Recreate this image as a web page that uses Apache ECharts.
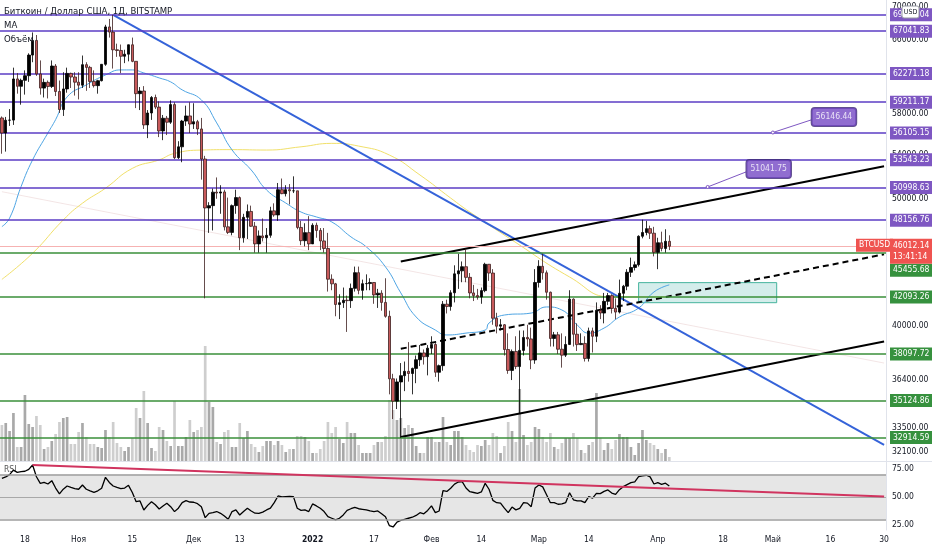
<!DOCTYPE html>
<html lang="ru">
<head>
<meta charset="UTF-8" />
<title>BTCUSD 1Д - BITSTAMP</title>
<script src="https://cdn.jsdelivr.net/npm/echarts@6.0.0/dist/echarts.min.js"></script>
<style>
  html, body { margin: 0; padding: 0; background: #ffffff; }
  #chart { width: 932px; height: 550px; }
</style>
</head>
<body>
<div id="chart"></div>
<script>
const FONT = '"Liberation Sans Narrow", "DejaVu Sans Condensed", Roboto, sans-serif';
const INK = '#131722';

// daily candles from 2021-10-12 to 2022-04-04: [open, high, low, close]
const candles = [
  [57600, 57750, 54100, 56100], [56100, 57700, 54300, 57370], [57370, 58500, 56800, 57380], [57380, 62900, 56900, 61670],
  [61670, 62300, 60100, 60880], [60880, 61700, 58950, 61520], [61520, 62600, 60000, 62020], [62020, 64500, 61350, 64300],
  [64300, 66900, 63500, 65970], [65970, 66600, 62000, 62210], [62210, 63700, 60000, 60690], [60690, 61700, 59700, 61300],
  [61300, 61500, 59600, 60860], [60860, 63700, 60700, 63080], [63080, 63300, 59850, 60330], [60330, 61500, 58100, 58450],
  [58450, 62400, 57800, 60600], [60600, 62900, 60200, 62270], [62270, 62350, 60700, 61880], [61880, 62400, 59900, 61320],
  [61320, 62400, 59500, 61000], [61000, 64250, 60700, 63230], [63230, 63500, 60400, 62930], [62930, 63100, 60700, 61400],
  [61400, 62600, 60750, 60950], [60950, 61580, 60100, 61480], [61480, 63300, 61400, 63270], [63270, 67800, 63100, 67550],
  [67550, 68500, 66300, 66940], [66940, 69000, 62800, 64900], [64900, 65600, 64100, 64820], [64820, 65500, 62300, 64170],
  [64170, 64900, 63400, 64400], [64400, 65500, 63600, 65470], [65470, 66300, 63500, 63600], [63600, 63600, 58600, 60100],
  [60100, 60800, 58400, 60380], [60380, 60900, 56500, 56900], [56900, 58400, 55600, 58100], [58100, 59850, 57400, 59700],
  [59700, 60000, 58500, 58700], [58700, 59300, 55700, 56300], [56300, 57900, 55400, 57570], [57570, 57800, 55900, 57170],
  [57170, 59400, 57000, 58960], [58960, 59200, 53600, 53730], [53730, 55300, 53600, 54760], [54760, 57400, 53300, 57280],
  [57280, 58850, 56800, 57800], [57800, 59200, 56100, 56990], [56990, 59100, 56500, 57220], [57220, 57400, 55900, 56500],
  [56500, 57600, 51700, 53600], [53600, 53900, 42000, 49200], [49200, 49700, 47100, 49400], [49400, 50900, 47300, 50580],
  [50580, 51900, 50000, 50500], [50500, 51200, 48700, 50600], [50600, 50800, 47300, 47600], [47600, 50100, 47000, 47140],
  [47140, 49500, 46900, 49400], [49400, 50800, 48700, 50100], [50100, 50200, 45700, 46700], [46700, 48700, 46300, 48400],
  [48400, 49500, 46600, 48900], [48900, 49400, 47600, 47650], [47650, 48000, 45500, 46200], [46200, 47300, 45500, 46850],
  [46850, 48300, 46400, 46700], [46700, 47500, 45500, 46900], [46900, 49300, 46700, 48950], [48950, 49600, 48450, 48600],
  [48600, 51400, 48100, 50800], [50800, 51800, 50400, 50450], [50450, 51200, 50200, 50800], [50800, 51300, 49500, 50700],
  [50700, 52000, 50500, 50700], [50700, 50700, 47400, 47550], [47550, 48100, 46100, 46460], [46460, 47900, 46000, 47120],
  [47120, 48500, 45700, 46200], [46200, 47900, 46200, 47730], [47730, 47950, 46700, 47300], [47300, 47500, 45700, 46440],
  [46440, 47500, 45500, 45830], [45830, 47100, 42500, 43430], [43430, 43800, 42600, 43080], [43080, 43150, 40700, 41550],
  [41550, 42300, 40500, 41680], [41680, 42800, 41300, 41860], [41860, 42200, 39600, 41830], [41830, 43100, 41300, 42740],
  [42740, 44400, 42500, 43930], [43930, 44400, 42300, 42590], [42590, 43400, 41900, 43090], [43090, 43800, 42600, 43100],
  [43100, 43500, 42600, 43180], [43180, 43200, 41600, 42250], [42250, 42700, 41300, 42380], [42380, 42600, 41100, 41700],
  [41700, 43500, 40600, 40700], [40700, 41100, 35500, 36480], [36480, 36800, 34000, 35080], [35080, 36500, 34600, 36280],
  [36280, 37500, 32900, 36680], [36680, 37600, 35700, 36960], [36960, 38900, 36300, 36820], [36820, 37200, 35500, 37150],
  [37150, 38000, 36200, 37720], [37720, 38700, 37300, 38170], [38170, 38400, 37400, 37920], [37920, 38700, 36700, 38490],
  [38490, 39300, 38100, 38740], [38740, 38850, 36600, 36900], [36900, 37400, 36300, 37330], [37330, 41800, 37000, 41570],
  [41570, 41900, 40900, 41400], [41400, 42600, 41100, 42410], [42410, 44500, 41700, 43840], [43840, 45400, 42700, 44070],
  [44070, 44800, 43200, 44390], [44390, 45800, 43200, 43570], [43570, 43900, 42000, 42400], [42400, 43000, 41800, 42200],
  [42200, 42700, 41900, 42100], [42100, 42800, 41600, 42570], [42570, 44700, 42450, 44580], [44580, 44600, 43300, 43900],
  [43900, 44200, 40100, 40560], [40560, 40950, 39500, 40000], [40000, 40500, 39700, 40100], [40100, 40150, 38000, 38400],
  [38400, 39500, 36800, 37020], [37020, 38400, 36400, 38270], [38270, 39300, 37100, 37270], [37270, 39700, 34300, 38340],
  [38340, 39700, 38000, 39220], [39220, 40100, 38600, 39120], [39120, 39900, 37100, 37700], [37700, 44200, 37450, 43180],
  [43180, 44900, 42800, 44420], [44420, 45400, 43400, 43920], [43920, 44100, 41900, 42450], [42450, 42500, 38600, 39150],
  [39150, 39600, 38600, 39400], [39400, 39600, 38100, 38420], [38420, 39500, 37200, 38020], [38020, 39300, 37900, 38740],
  [38740, 42600, 38700, 41940], [41940, 42000, 38600, 39440], [39440, 40200, 38300, 38730], [38730, 39500, 38700, 38810],
  [38810, 39300, 37600, 37800], [37800, 39900, 37600, 39670], [39670, 39900, 38200, 39300], [39300, 41700, 38900, 41130],
  [41130, 41500, 40500, 40930], [40930, 42400, 40200, 41780], [41780, 42400, 41500, 42200], [42200, 42300, 40900, 41270],
  [41270, 42000, 40500, 41000], [41000, 43400, 40900, 42370], [42370, 43000, 41800, 42900], [42900, 44200, 42600, 43960],
  [43960, 45100, 43600, 44330], [44330, 44800, 44100, 44540], [44540, 46900, 44400, 46820], [46820, 48200, 46650, 47130],
  [47130, 48100, 46900, 47450], [47450, 47700, 46600, 47070], [47070, 47600, 45200, 45520], [45520, 46700, 44200, 46290],
  [46290, 47200, 45600, 45830], [45830, 47400, 45500, 46410], [46410, 46900, 45700, 46012.14]
];

// daily volume, BTC
const volumes = [
  3600, 3800, 3000, 4800, 1400, 1400, 6600, 3700, 3400, 4500, 3600, 1200, 1400, 2000, 2700, 3900,
  4300, 4400, 1700, 1700, 2900, 3800, 2400, 1700, 1700, 1400, 1300, 3100, 2400, 3900, 1800, 1400,
  1000, 1400, 2300, 5300, 4300, 7000, 3800, 1300, 1000, 3400, 3100, 2000, 1500, 6000, 1500, 1500,
  2400, 4100, 2900, 3100, 3400, 11500, 5900, 5400, 1900, 1700, 2900, 3100, 1400, 1400, 3800, 2300,
  3000, 1700, 1400, 900, 1500, 2000, 2000, 1600, 2000, 1600, 900, 1200, 1200, 2500, 2500, 2400,
  2000, 800, 800, 1200, 2000, 3900, 2800, 3400, 2200, 1800, 3900, 2800, 2800, 1600, 800, 800,
  800, 1600, 1900, 1900, 2500, 6100, 5100, 4100, 4300, 3300, 3600, 3300, 1500, 800, 800, 2400,
  2400, 1900, 1900, 4400, 1900, 1600, 3000, 3000, 2400, 1600, 1100, 900, 1600, 1500, 2100, 1600,
  2800, 2500, 800, 1500, 3900, 3000, 1900, 7200, 2600, 1600, 1900, 3400, 3200, 2400, 1900, 2800,
  1400, 1200, 1800, 2300, 2300, 2800, 2300, 1100, 800, 1600, 1900, 6800, 2300, 1100, 1800, 1200,
  2100, 2700, 2400, 2400, 1400, 600, 1800, 3100, 2100, 1800, 1600, 1200, 800, 1200, 400
];

// RSI(14), one value per candle
const rsi = [
  66.7, 68, 70, 74, 72, 72.6, 73, 74.7, 78.6, 68.1, 62.2, 63, 61.6, 64.6, 58, 52.7,
  57, 59.8, 58.5, 57.5, 56.9, 60.7, 56.9, 55.5, 54.2, 55.5, 57.8, 67.6, 63, 59.8, 58.5, 57.4,
  58, 60.4, 54, 45.8, 46.5, 38.4, 42.5, 45.8, 43, 39.3, 42, 44.4, 41.3, 36.9, 40, 45,
  46.7, 45.5, 45.3, 44, 41.3, 31.5, 35.4, 36, 37, 35.4, 33, 30.1, 37, 38.4, 33.9, 37,
  39.9, 37.5, 35.5, 35.4, 36.5, 38.4, 40, 44.9, 50.9, 50, 50.3, 50.5, 50.3, 39.9, 38, 38.4,
  37, 43.8, 42, 39.9, 37, 32.4, 31, 29.5, 31, 34, 38, 39.5, 40.8, 39.5, 39, 38.5,
  37.5, 36.9, 37.5, 35, 32.4, 24.5, 23.2, 27.5, 29, 30, 31, 31.9, 33.5, 36, 35, 38,
  42, 36, 37.5, 55.6, 55, 57.8, 61.5, 63.4, 63.7, 58, 54.7, 54, 53.3, 54.5, 62.2, 56.9,
  47, 44.9, 44.5, 40, 36, 41, 38.5, 39.9, 44.9, 44.5, 41.3, 58, 60.7, 59, 52, 44.9,
  45, 43.5, 43.8, 45, 53.8, 47.5, 46.5, 46.5, 44.9, 50.3, 49, 53.3, 53, 55, 56.3, 53.5,
  52.4, 56.5, 59.2, 61, 62.8, 63.5, 68.1, 68.8, 69.4, 68, 61.6, 62.8, 61.3, 62.3, 59.8
];

// moving averages
const maFast = [
  ['2021-10-12', 47620], ['2021-10-14', 48330], ['2021-10-17', 51080], ['2021-10-20', 53520], ['2021-10-24', 56110],
  ['2021-10-26', 57430], ['2021-10-29', 59760], ['2021-11-03', 61030], ['2021-11-08', 62100], ['2021-11-12', 62650],
  ['2021-11-15', 62650], ['2021-11-18', 62320], ['2021-11-22', 61780], ['2021-11-25', 61350], ['2021-11-28', 60500],
  ['2021-12-03', 59450], ['2021-12-07', 57100], ['2021-12-11', 54460], ['2021-12-16', 52580], ['2021-12-20', 50770],
  ['2021-12-25', 49630], ['2021-12-29', 48850], ['2022-01-02', 48430], ['2022-01-06', 48010], ['2022-01-11', 46770],
  ['2022-01-15', 45960], ['2022-01-20', 44380], ['2022-01-24', 42400], ['2022-01-28', 40650], ['2022-02-02', 39730],
  ['2022-02-05', 39390], ['2022-02-10', 39520], ['2022-02-15', 39730], ['2022-02-16', 40220], ['2022-02-20', 40790],
  ['2022-02-27', 40930], ['2022-03-03', 41370], ['2022-03-07', 41150], ['2022-03-11', 40080], ['2022-03-14', 39520],
  ['2022-03-18', 39870], ['2022-03-22', 40650], ['2022-03-27', 41290], ['2022-03-31', 42470], ['2022-04-04', 43000]
];
const maSlow = [
  ['2021-10-12', 43420], ['2021-10-20', 45450], ['2021-10-28', 48180], ['2021-11-02', 49610], ['2021-11-08', 50930],
  ['2021-11-15', 52730], ['2021-11-22', 53520], ['2021-11-26', 54130], ['2021-12-03', 54450], ['2021-12-11', 54490],
  ['2021-12-20', 54450], ['2021-12-29', 54760], ['2022-01-06', 55090], ['2022-01-13', 54830], ['2022-01-21', 53980],
  ['2022-01-29', 52120], ['2022-02-06', 50060], ['2022-02-11', 48850], ['2022-02-22', 46510], ['2022-03-09', 43600],
  ['2022-03-20', 42100], ['2022-04-04', 42100]
];

// horizontal levels
const purpleLevels = [69000.04, 67041.83, 62271.18, 59211.17, 56105.15, 53543.23, 50998.63, 48156.76];
const greenLevels = [45455.68, 42093.26, 38097.72, 35124.86, 32914.59];
const lastPrice = 46012.14;
const priceTicks = [70000, 66000, 58000, 54000, 50000, 40000, 36400, 33500, 32100];
const rsiTicks = [75, 50, 25];

// drawn lines [date, value]
const blueTrend = [['2021-11-10', 69000], ['2022-05-30', 32500]];
const channelTop = [['2022-01-24', 44790], ['2022-05-30', 52920]];
const channelMid = [['2022-01-24', 38450], ['2022-05-30', 45360]];
const channelLow = [['2022-01-24', 32940], ['2022-05-30', 38940]];
const faintTrend = [['2021-10-12', 50620], ['2022-05-30', 37500]];
const rsiTrend = [['2021-10-20', 78.6], ['2022-05-30', 50.5]];
const zone = [['2022-03-27', 43170], ['2022-05-02', 41680]];
const callouts = [
  { text: '56146.44', at: ['2022-05-01', 56146.44], box: ['2022-05-11', 57400] },
  { text: '51041.75', at: ['2022-04-14', 51041.75], box: ['2022-04-24', 52400] }
];

const xTicks = {
  '2021-10-18': '18', '2021-11-01': 'Ноя', '2021-11-15': '15', '2021-12-01': 'Дек', '2021-12-13': '13',
  '2022-01-01': '2022', '2022-01-17': '17', '2022-02-01': 'Фев', '2022-02-14': '14', '2022-03-01': 'Мар',
  '2022-03-14': '14', '2022-04-01': 'Апр', '2022-04-18': '18', '2022-05-01': 'Май', '2022-05-16': '16',
  '2022-05-30': '30'
};

// one category per calendar day, 2021-10-12 .. 2022-05-30
const days = [];
for (let t = Date.UTC(2021, 9, 12); t <= Date.UTC(2022, 4, 30); t += 86400000) {
  days.push(new Date(t).toISOString().slice(0, 10));
}

const chart = echarts.init(document.getElementById('chart'), null, { renderer: 'canvas' });

const NOLINE = { color: 'rgba(0,0,0,0)', width: 0 };

const tag = (bg, extra) => Object.assign({
  position: 'end', distance: 4, color: '#ffffff', backgroundColor: bg, padding: [2, 3, 1, 3],
  fontFamily: FONT, fontSize: 8.5, lineHeight: 10, formatter: p => Number(p.value).toFixed(2)
}, extra || {});

const levelSeries = (name, values, color, bg, z, offsets) => ({
  name, type: 'line', data: [], xAxisIndex: 0, yAxisIndex: 0, z, silent: true,
  markLine: {
    symbol: 'none', silent: true, animation: false,
    lineStyle: { color, width: 1.5, type: 'solid' },
    label: tag(bg),
    data: values.map((v, k) => ({ yAxis: v, label: offsets && offsets[k] ? { offset: offsets[k] } : {} }))
  }
});

const tickSeries = (name, values, axis, digits, z) => ({
  name, type: 'line', data: [], xAxisIndex: axis, yAxisIndex: axis, z, silent: true,
  markLine: {
    symbol: 'none', silent: true, animation: false,
    lineStyle: NOLINE,
    label: { position: 'end', distance: 6, color: INK, fontFamily: FONT, fontSize: 8.5,
      formatter: p => Number(p.value).toFixed(digits) },
    data: values.map(v => ({ yAxis: v }))
  }
});

const trend = (name, data, color, width, type, z, axis) => ({
  name, type: 'line', data, xAxisIndex: axis || 0, yAxisIndex: axis || 0, z, silent: true,
  symbol: 'none', lineStyle: { color, width, type }, animation: false
});

const series = [
  tickSeries('priceTicks', priceTicks, 0, 2, 1),
  levelSeries('purple', purpleLevels, '#5b3cc4', '#7e57c2', 2),
  levelSeries('green', greenLevels, '#3a8f3a', '#36913e', 2, [[0, 17]]),
  {
    name: 'last', type: 'line', data: [], xAxisIndex: 0, yAxisIndex: 0, z: 2, silent: true,
    markLine: {
      symbol: 'none', silent: true, animation: false,
      lineStyle: { color: '#f6b2b2', width: 1, type: 'solid' },
      label: tag('#ef5350', { formatter: lastPrice.toFixed(2) + '\n13:41:14', offset: [0, 5], lineHeight: 11 }),
      data: [{ yAxis: lastPrice }]
    }
  },
  {
    name: 'ticker', type: 'line', data: [], xAxisIndex: 0, yAxisIndex: 0, z: 9, silent: true,
    markLine: {
      symbol: 'none', silent: true, animation: false,
      lineStyle: NOLINE,
      label: tag('#ef5350', { formatter: 'BTCUSD', distance: 0, offset: [-30, -1] }),
      data: [{ yAxis: lastPrice }]
    }
  },
  {
    name: 'zone', type: 'line', data: [], xAxisIndex: 0, yAxisIndex: 0, z: 2, silent: true,
    markArea: {
      silent: true, animation: false,
      itemStyle: { color: 'rgba(38,166,154,0.2)', borderColor: '#45b39d', borderWidth: 1 },
      data: [[{ coord: zone[0] }, { coord: zone[1] }]]
    }
  },
  trend('faint', faintTrend, 'rgba(215,170,170,0.3)', 1, 'solid', 2),
  {
    name: 'MA slow', type: 'line', data: maSlow, smooth: true, symbol: 'none', z: 3, silent: true,
    xAxisIndex: 0, yAxisIndex: 0, lineStyle: { color: '#f1e06a', width: 1 }, animation: false
  },
  {
    name: 'MA fast', type: 'line', data: maFast, smooth: true, symbol: 'none', z: 3, silent: true,
    xAxisIndex: 0, yAxisIndex: 0, lineStyle: { color: '#4ea5e4', width: 1 }, animation: false
  },
  trend('blueTrend', blueTrend, '#3563d9', 2, 'solid', 4),
  trend('channelTop', channelTop, '#000000', 2, 'solid', 4),
  trend('channelLow', channelLow, '#000000', 2, 'solid', 4),
  trend('channelMid', channelMid, '#000000', 2, [6, 4], 4),
  {
    name: 'BTCUSD', type: 'candlestick', xAxisIndex: 0, yAxisIndex: 0, z: 5, silent: true,
    barWidth: '78%', animation: false,
    data: candles.map(c => [c[0], c[3], c[2], c[1]]),
    itemStyle: { color: '#000000', color0: '#c85a5b', borderColor: '#000000', borderColor0: '#3d2020', borderWidth: 0.8 }
  },
  {
    name: 'Объём', type: 'bar', xAxisIndex: 1, yAxisIndex: 1, z: 1, silent: true, barWidth: '70%',
    animation: false, data: volumes,
    itemStyle: { color: p => candles[p.dataIndex][3] >= candles[p.dataIndex][0] ? 'rgba(140,140,140,0.75)' : 'rgba(185,185,185,0.7)' }
  }
];

callouts.forEach((c, k) => {
  series.push({
    name: 'pointer' + k, type: 'line', data: [c.at, c.box], xAxisIndex: 0, yAxisIndex: 0, z: 6, silent: true,
    symbol: 'circle', symbolSize: (v, p) => (p.dataIndex === 0 ? 3 : 0), showAllSymbol: true,
    itemStyle: { color: '#ffffff', borderColor: '#7e57c2', borderWidth: 1 },
    lineStyle: { color: '#7e57c2', width: 1 }, animation: false
  });
  series.push({
    name: 'note' + k, type: 'scatter', data: [c.box], xAxisIndex: 0, yAxisIndex: 0, z: 7, silent: true,
    symbolSize: 1, itemStyle: { color: 'rgba(0,0,0,0)' }, animation: false,
    label: {
      show: true, position: 'right', distance: 0, offset: [0, -3], formatter: c.text,
      color: '#ffffff', backgroundColor: '#7448c4', borderColor: '#3a2474', borderWidth: 1, borderRadius: 3,
      padding: [5, 4, 4, 4], fontFamily: FONT, fontSize: 8.5
    }
  });
});

series.push({
  name: 'RSI', type: 'line', data: rsi, xAxisIndex: 2, yAxisIndex: 2, z: 4, silent: true, symbol: 'none',
  lineStyle: { color: '#000000', width: 1.3 }, animation: false,
  markArea: {
    silent: true, animation: false, itemStyle: { color: '#e6e6e6' },
    data: [[{ yAxis: 30 }, { yAxis: 70 }]]
  },
  markLine: {
    symbol: 'none', silent: true, animation: false, label: { show: false },
    lineStyle: { color: '#9e9e9e', width: 1.5, type: 'solid' },
    data: [{ yAxis: 70 }, { yAxis: 50, lineStyle: { width: 1.2, color: '#a8a8a8' } }, { yAxis: 30 }]
  }
});
series.push(trend('rsiTrend', rsiTrend, '#d0345f', 2, 'solid', 5, 2));
series.push(tickSeries('rsiTicks', rsiTicks, 2, 2, 1));

const hiddenX = (gridIndex, show) => ({
  type: 'category', gridIndex, data: days, boundaryGap: true,
  axisLine: { show: show, lineStyle: { color: '#e0e3eb', width: 1 } },
  axisTick: { show: false }, axisLabel: { show: false }, splitLine: { show: false }
});

const option = {
  backgroundColor: '#ffffff',
  animation: false,
  textStyle: { fontFamily: FONT },
  grid: [
    { left: -1, right: 46, top: 0, height: 461, containLabel: false },
    { left: -1, right: 46, top: 340, height: 121, containLabel: false },
    { left: -1, right: 46, top: 462, height: 68, containLabel: false }
  ],
  xAxis: [
    hiddenX(0, true),
    hiddenX(1, false),
    {
      type: 'category', gridIndex: 2, data: days, boundaryGap: true,
      axisLine: { show: false }, axisTick: { show: false }, splitLine: { show: false },
      axisLabel: {
        show: true, margin: 5, color: INK, fontFamily: FONT, fontSize: 8.5,
        interval: (i, v) => xTicks[v] !== undefined,
        formatter: v => (v === '2022-01-01' ? '{b|2022}' : (xTicks[v] || '')),
        rich: { b: { fontWeight: 'bold', color: INK, fontFamily: FONT, fontSize: 8.5 } }
      }
    }
  ],
  yAxis: [
    {
      type: 'log', logBase: 10, gridIndex: 0, position: 'right', min: 31590, max: 70810,
      axisLine: { show: true, lineStyle: { color: '#e0e3eb' } },
      axisTick: { show: false }, axisLabel: { show: false }, splitLine: { show: false }
    },
    {
      type: 'value', gridIndex: 1, min: 0, max: 12100, show: false, splitLine: { show: false }
    },
    {
      type: 'value', gridIndex: 2, position: 'right', min: 20.5, max: 81.25,
      axisLine: { show: true, lineStyle: { color: '#e0e3eb' } },
      axisTick: { show: false }, axisLabel: { show: false }, splitLine: { show: false }
    }
  ],
  graphic: [
    { type: 'line', z: 0, shape: { x1: 0, y1: 461.5, x2: 932, y2: 461.5 }, style: { stroke: '#e0e3eb', lineWidth: 1 } },
    { type: 'text', left: 4, top: 7, z: 20, style: { text: 'Биткоин / Доллар США, 1Д, BITSTAMP', fill: INK, font: '9.5px ' + FONT } },
    { type: 'text', left: 4, top: 21, z: 20, style: { text: 'MA', fill: INK, font: '9.5px ' + FONT } },
    { type: 'text', left: 4, top: 35, z: 20, style: { text: 'Объём', fill: INK, font: '9.5px ' + FONT } },
    { type: 'text', left: 4, top: 465, z: 1, style: { text: 'RSI', fill: '#555555', font: '8.5px ' + FONT } },
    {
      type: 'rect', z: 30, zlevel: 1, shape: { x: 902, y: 6, width: 17, height: 12, r: 2 },
      style: { fill: '#ffffff', stroke: '#9598a1', lineWidth: 1 }
    },
    {
      type: 'text', z: 31, zlevel: 1, x: 910.5, y: 12,
      style: { text: 'USD', fill: INK, font: '7px ' + FONT, align: 'center', verticalAlign: 'middle' }
    }
  ],
  series
};

chart.setOption(option);
window.addEventListener('resize', () => chart.resize());
</script>
</body>
</html>
